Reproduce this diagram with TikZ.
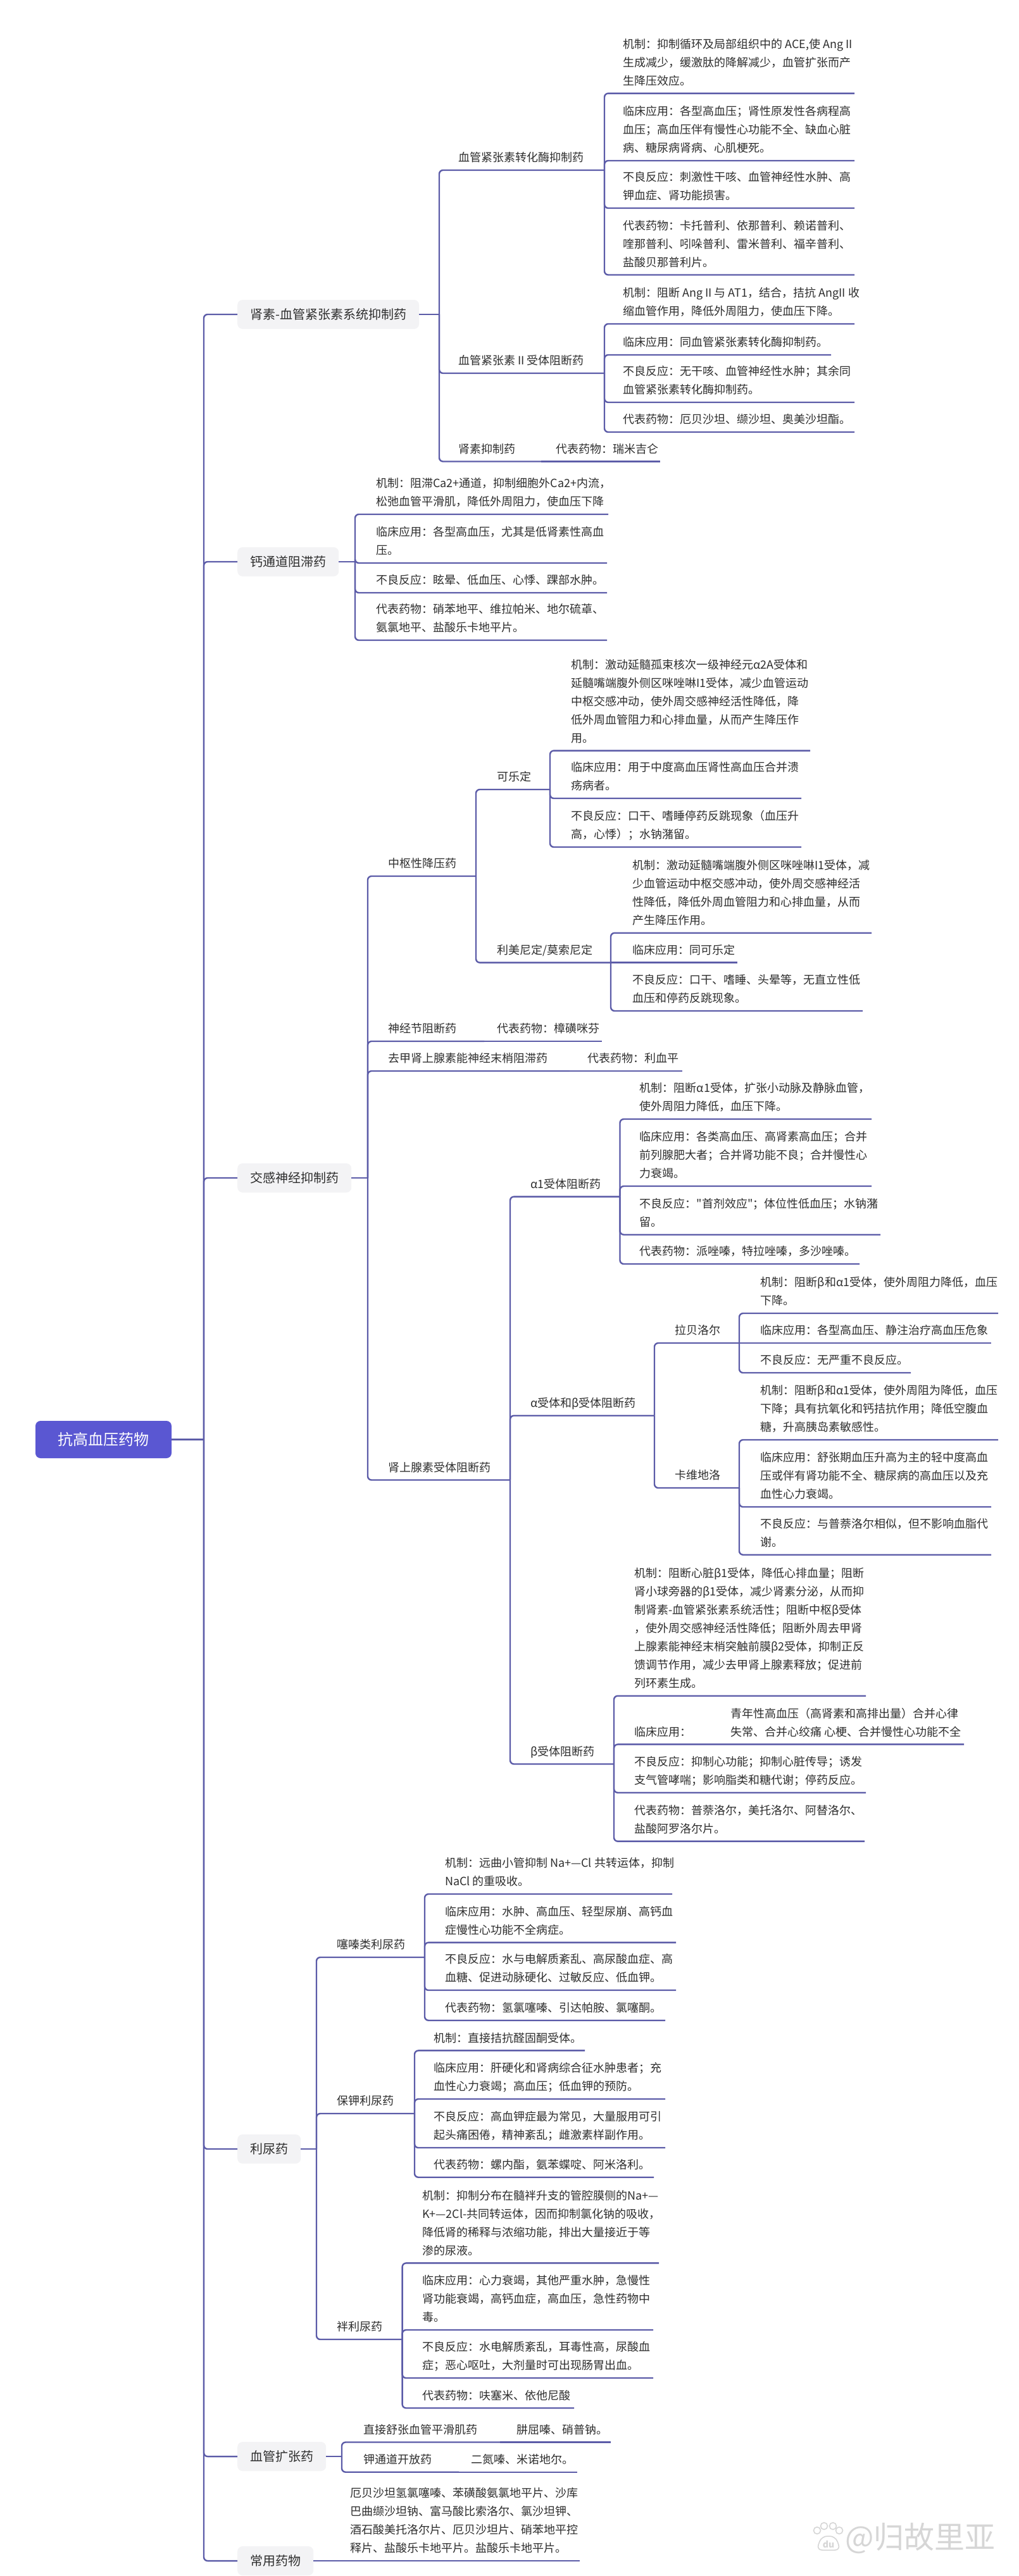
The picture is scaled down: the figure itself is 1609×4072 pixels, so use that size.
\documentclass[tikz,border=0pt]{standalone}
\usepackage{fontspec}
\setmainfont{Noto Sans CJK SC}[Ligatures=TeXOff]
\definecolor{lc}{HTML}{5C5CA8}
\definecolor{tc}{HTML}{2E2E2E}
\definecolor{bx}{HTML}{F3F3F5}
\definecolor{rootc}{HTML}{5A57D2}
\definecolor{wmc}{HTML}{D6D6D6}
\newcommand\fs{\fontsize{18}{29}\selectfont}
\newcommand\fb{\fontsize{20}{26}\selectfont}
\newcommand\fr{\fontsize{24}{30}\selectfont}
\newcommand\lf[6]{\node[lbl] (#1) at (#3,#4) {\begin{tabular}[b]{@{}l@{}}#6\end{tabular}};\draw[conn] (#2) -- (#2 |- #1.south west) -- (#5,#4);}
\newcommand\pl[6]{\lf{#1}{#2}{#3}{#4}{#5}{#6}\coordinate (#1J) at (#5,#4);}
\newcommand\ilf[6]{\node[lbl] (#1) at (#3,#4) {\begin{tabular}[b]{@{}l@{}}#6\end{tabular}};\draw[conn] (#2) -- (#5,#4);}
\newcommand\lvone[4]{\node[lvbox] (#1) at (375,#2) {#4};\draw[conn] (RJ) -- (RJ |- #1.west) -- (#1.west);\draw[conn] (#1.east) -- (#3,#2);\coordinate (#1J) at (#3,#2);}
\begin{document}
\begin{tikzpicture}[x=1pt,y=-1pt,
  conn/.style={draw=lc,line width=2.4pt,rounded corners=6pt},
  lbl/.style={anchor=south west,inner sep=0pt,text depth=13pt,font=\fs,text=tc},
  lvbox/.style={anchor=west,fill=bx,rounded corners=8pt,minimum height=46pt,inner xsep=20pt,font=\fb,text=tc},
  rootbox/.style={fill=rootc,rounded corners=8pt,minimum width=215pt,minimum height=59pt,font=\fr,text=white},
  wmline/.style={draw=wmc,line width=1.6pt,fill=white}]
\fill[white] (0,0) rectangle (1609,4072);
\useasboundingbox (0,0) rectangle (1609,4072);

\node[rootbox] (root) at (163.5,2275.5) {抗高血压药物};
\coordinate (RJ) at (322,2275.5);
\draw[conn] (root.east) -- (RJ);

% ---------- level 1 ----------
\lvone{n1}{497}{694}{肾素-血管紧张素系统抑制药}
\lvone{n2}{888}{561}{钙通道阻滞药}
\lvone{n3}{1862}{581}{交感神经抑制药}
\lvone{n4}{3397}{500}{利尿药}
\lvone{n5}{3883}{540}{血管扩张药}
\lvone{n6}{4048}{553}{常用药物}

% ---------- RAS ----------
\pl{n1a}{n1J}{724}{269}{955}{血管紧张素转化酶抑制药}
\lf{n1a1}{n1aJ}{984}{147.6}{1350}{机制：抑制循环及局部组织中的 ACE,使 Ang II\\生成减少，缓激肽的降解减少，血管扩张而产\\生降压效应。}
\lf{n1a2}{n1aJ}{984}{254}{1350}{临床应用：各型高血压；肾性原发性各病程高\\血压；高血压伴有慢性心功能不全、缺血心脏\\病、糖尿病肾病、心肌梗死。}
\lf{n1a3}{n1aJ}{984}{329}{1350}{不良反应：刺激性干咳、血管神经性水肿、高\\钾血症、肾功能损害。}
\lf{n1a4}{n1aJ}{984}{434.5}{1350}{代表药物：卡托普利、依那普利、赖诺普利、\\喹那普利、吲哚普利、雷米普利、福辛普利、\\盐酸贝那普利片。}

\pl{n1b}{n1J}{724}{590}{955}{血管紧张素 II 受体阻断药}
\lf{n1b1}{n1bJ}{984}{512}{1350}{机制：阻断 Ang II 与 AT1，结合，拮抗 AngII 收\\缩血管作用，降低外周阻力，使血压下降。}
\lf{n1b2}{n1bJ}{984}{561}{1313}{临床应用：同血管紧张素转化酶抑制药。}
\lf{n1b3}{n1bJ}{984}{636}{1350}{不良反应：无干咳、血管神经性水肿；其余同\\血管紧张素转化酶抑制药。}
\lf{n1b4}{n1bJ}{984}{683}{1350}{代表药物：厄贝沙坦、缬沙坦、奥美沙坦酯。}

\pl{n1c}{n1J}{724}{729.5}{855}{肾素抑制药}
\ilf{n1c1}{n1cJ}{878}{729.5}{1043}{代表药物：瑞米吉仑}

% ---------- CCB ----------
\lf{n2a}{n2J}{594}{813}{961}{机制：阻滞Ca2+通道，抑制细胞外Ca2+内流，\\松弛血管平滑肌，降低外周阻力，使血压下降}
\lf{n2b}{n2J}{594}{890}{959}{临床应用：各型高血压，尤其是低肾素性高血\\压。}
\lf{n2c}{n2J}{594}{937}{959}{不良反应：眩晕、低血压、心悸、踝部水肿。}
\lf{n2d}{n2J}{594}{1012}{959}{代表药物：硝苯地平、维拉帕米、地尔硫䓬、\\氨氯地平、盐酸乐卡地平片。}

% ---------- sympathetic ----------
\pl{n3a}{n3J}{613}{1385}{752}{中枢性降压药}
\pl{n3a1}{n3aJ}{785}{1248}{869}{可乐定}
\lf{n3a1a}{n3a1J}{902}{1186.6}{1280}{机制：激动延髓孤束核次一级神经元α2A受体和\\延髓嘴端腹外侧区咪唑啉I1受体，减少血管运动\\中枢交感冲动，使外周交感神经活性降低，降\\低外周血管阻力和心排血量，从而产生降压作\\用。}
\lf{n3a1b}{n3a1J}{902}{1262}{1266}{临床应用：用于中度高血压肾性高血压合并溃\\疡病者。}
\lf{n3a1c}{n3a1J}{902}{1339}{1266}{不良反应：口干、嗜睡停药反跳现象（血压升\\高，心悸）；水钠潴留。}
\pl{n3a2}{n3aJ}{785}{1521.6}{965}{利美尼定/莫索尼定}
\lf{n3a2a}{n3a2J}{999}{1474.7}{1377}{机制：激动延髓嘴端腹外侧区咪唑啉I1受体，减\\少血管运动中枢交感冲动，使外周交感神经活\\性降低，降低外周血管阻力和心排血量，从而\\产生降压作用。}
\ilf{n3a2b}{n3a2J}{999}{1521.6}{1165}{临床应用：同可乐定}
\lf{n3a2c}{n3a2J}{999}{1598}{1363}{不良反应：口干、嗜睡、头晕等，无直立性低\\血压和停药反跳现象。}

\pl{n3b}{n3J}{613}{1646}{765}{神经节阻断药}
\ilf{n3b1}{n3bJ}{785}{1646}{951}{代表药物：樟磺咪芬}
\pl{n3c}{n3J}{613}{1693}{900}{去甲肾上腺素能神经末梢阻滞药}
\ilf{n3c1}{n3cJ}{928}{1693}{1078}{代表药物：利血平}

\pl{n3d}{n3J}{613}{2339.5}{806}{肾上腺素受体阻断药}
\pl{n3d1}{n3dJ}{838}{1891.6}{979.5}{α1受体阻断药}
\lf{n3d1a}{n3d1J}{1010.6}{1769}{1377}{机制：阻断α1受体，扩张小动脉及静脉血管，\\使外周阻力降低，血压下降。}
\lf{n3d1b}{n3d1J}{1010.6}{1875}{1377}{临床应用：各类高血压、高肾素高血压；合并\\前列腺肥大者；合并肾功能不良；合并慢性心\\力衰竭。}
\lf{n3d1c}{n3d1J}{1010.6}{1951.7}{1391}{不良反应："首剂效应"；体位性低血压；水钠潴\\留。}
\lf{n3d1d}{n3d1J}{1010.6}{1998}{1358}{代表药物：派唑嗪，特拉唑嗪，多沙唑嗪。}

\pl{n3d2}{n3dJ}{838}{2237.7}{1034}{α受体和β受体阻断药}
\pl{n3d2a}{n3d2J}{1066}{2123}{1168}{拉贝洛尔}
\lf{n3d2a1}{n3d2aJ}{1201.5}{2076}{1577}{机制：阻断β和α1受体，使外周阻力降低，血压\\下降。}
\ilf{n3d2a2}{n3d2aJ}{1201.5}{2123}{1566}{临床应用：各型高血压、静注治疗高血压危象}
\lf{n3d2a3}{n3d2aJ}{1201.5}{2170}{1439}{不良反应：无严重不良反应。}
\pl{n3d2b}{n3d2J}{1066}{2352}{1168}{卡维地洛}
\lf{n3d2b1}{n3d2bJ}{1201.5}{2276}{1577}{机制：阻断β和α1受体，使外周阻为降低，血压\\下降；具有抗氧化和钙拮抗作用；降低空腹血\\糖，升高胰岛素敏感性。}
\lf{n3d2b2}{n3d2bJ}{1201.5}{2382}{1566}{临床应用：舒张期血压升高为主的轻中度高血\\压或伴有肾功能不全、糖尿病的高血压以及充\\血性心力衰竭。}
\lf{n3d2b3}{n3d2bJ}{1201.5}{2457.7}{1566}{不良反应：与普萘洛尔相似，但不影响血脂代\\谢。}

\pl{n3d3}{n3dJ}{838}{2788.5}{970}{β受体阻断药}
\lf{n3d3a}{n3d3J}{1002}{2680.7}{1368}{机制：阻断心脏β1受体，降低心排血量；阻断\\肾小球旁器的β1受体，减少肾素分泌，从而抑\\制肾素-血管紧张素系统活性；阻断中枢β受体\\，使外周交感神经活性降低；阻断外周去甲肾\\上腺素能神经末梢突触前膜β2受体，抑制正反\\馈调节作用，减少去甲肾上腺素释放；促进前\\列环素生成。}
\lf{n3d3b}{n3d3J}{1002}{2757.4}{1523}{\begin{tabular}[b]{@{}l@{}l@{}}&青年性高血压（高肾素和高排出量）合并心律\\\makebox[152pt][l]{临床应用：}&失常、合并心绞痛 心梗、合并慢性心功能不全\end{tabular}}
\lf{n3d3c}{n3d3J}{1002}{2833.7}{1368}{不良反应：抑制心功能；抑制心脏传导；诱发\\支气管哮喘；影响脂类和糖代谢；停药反应。}
\lf{n3d3d}{n3d3J}{1002}{2910.6}{1366}{代表药物：普萘洛尔，美托洛尔、阿替洛尔、\\盐酸阿罗洛尔片。}

% ---------- diuretics ----------
\pl{n4a}{n4J}{532}{3094}{671}{噻嗪类利尿药}
\lf{n4a1}{n4aJ}{703}{2994}{1062}{机制：远曲小管抑制 Na+—Cl 共转运体，抑制\\NaCl 的重吸收。}
\lf{n4a2}{n4aJ}{703}{3070.6}{1068}{临床应用：水肿、高血压、轻型尿崩、高钙血\\症慢性心功能不全病症。}
\lf{n4a3}{n4aJ}{703}{3146}{1068}{不良反应：水与电解质紊乱、高尿酸血症、高\\血糖、促进动脉硬化、过敏反应、低血钾。}
\lf{n4a4}{n4aJ}{703}{3193.7}{1051}{代表药物：氢氯噻嗪、引达帕胺、氯噻酮。}

\pl{n4b}{n4J}{532}{3341}{655}{保钾利尿药}
\lf{n4b1}{n4bJ}{685.6}{3241.4}{924}{机制：直接拮抗醛固酮受体。}
\lf{n4b2}{n4bJ}{685.6}{3318}{1051}{临床应用：肝硬化和肾病综合征水肿患者；充\\血性心力衰竭；高血压；低血钾的预防。}
\lf{n4b3}{n4bJ}{685.6}{3395}{1051}{不良反应：高血钾症最为常见，大量服用可引\\起头痛困倦，精神紊乱；雌激素样副作用。}
\lf{n4b4}{n4bJ}{685.6}{3441.7}{1033}{代表药物：螺内酯，氨苯蝶啶、阿米洛利。}

\pl{n4c}{n4J}{532}{3698}{635.6}{袢利尿药}
\lf{n4c1}{n4cJ}{667}{3577.4}{1041}{机制：抑制分布在髓袢升支的管腔膜侧的Na+—\\K+—2Cl-共同转运体，因而抑制氯化钠的吸收，\\降低肾的稀释与浓缩功能，排出大量接近于等\\渗的尿液。}
\lf{n4c2}{n4cJ}{667}{3683}{1032}{临床应用：心力衰竭，其他严重水肿，急慢性\\肾功能衰竭，高钙血症，高血压，急性药物中\\毒。}
\lf{n4c3}{n4cJ}{667}{3759}{1032}{不良反应：水电解质紊乱，耳毒性高，尿酸血\\症；恶心呕吐，大剂量时可出现肠胃出血。}
\lf{n4c4}{n4cJ}{667}{3806.5}{907}{代表药物：呋塞米、依他尼酸}

% ---------- vasodilators ----------
\pl{n5a}{n5J}{574}{3860.5}{790}{直接舒张血管平滑肌药}
\ilf{n5a1}{n5aJ}{816}{3860.5}{965}{肼屈嗪、硝普钠。}
\pl{n5b}{n5J}{574}{3907.7}{725}{钾通道开放药}
\ilf{n5b1}{n5bJ}{744}{3907.7}{912}{二氮嗪、米诺地尔。}

% ---------- common drugs ----------
\ilf{n6a}{n6J}{553}{4048}{916}{厄贝沙坦氢氯噻嗪、苯磺酸氨氯地平片、沙库\\巴曲缬沙坦钠、富马酸比索洛尔、氯沙坦钾、\\酒石酸美托洛尔片、厄贝沙坦片、硝苯地平控\\释片、盐酸乐卡地平片。盐酸乐卡地平片。}

% ---------- watermark ----------
\draw[wmline] (1291,4000) circle (5.5);
\draw[wmline] (1302,3993) circle (5.5);
\draw[wmline] (1316,3993) circle (5.5);
\draw[wmline] (1326,4000) circle (5.5);
\draw[wmline,rounded corners=9pt] (1290,4031) -- (1298,4009) -- (1320,4009) -- (1328,4031) -- cycle;
\node[inner sep=0pt,font=\fontsize{14}{16}\selectfont\bfseries,text=wmc] (wmdu) at (1309,4022) {du};
\node[anchor=west,inner sep=0pt,font=\fontsize{48}{50}\selectfont,text=wmc] (wm) at (1335,4012) {@归故里亚};
\end{tikzpicture}
\end{document}
